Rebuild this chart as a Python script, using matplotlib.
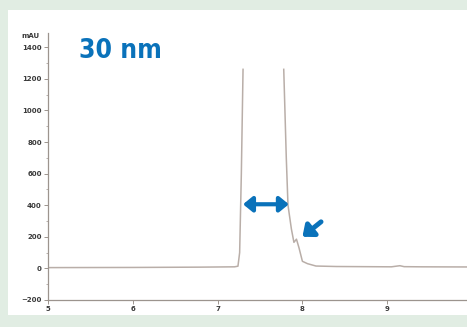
import numpy as np
import matplotlib
matplotlib.use("Agg")
import matplotlib.pyplot as plt
from matplotlib.patches import Rectangle

# chromatogram trace (time in min, signal in mAU)
# the peak runs off scale, so the top is left open (nan)
time_min = [5.0, 6.0, 6.8, 7.2, 7.24, 7.26, 7.28, 7.30,
            np.nan,
            7.78, 7.81, 7.83, 7.87, 7.90, 7.93, 7.96, 8.00, 8.06, 8.16, 8.40,
            9.05, 9.12, 9.15, 9.20, 9.40, 10.0]
signal_mau = [5, 6, 8, 10, 14, 100, 600, 1260,
              np.nan,
              1260, 700, 400, 250, 165, 185, 130, 45, 30, 15, 12,
              10, 15, 17, 11, 10, 9]

y_ticks = [-200, 0, 200, 400, 600, 800, 1000, 1200, 1400]
x_ticks = [5, 6, 7, 8, 9]
title = "30 nm"

blue = "#0a72ba"
axis_col = "#9c948e"
trace_col = "#b9aea8"

fig = plt.figure(figsize=(4.67, 3.27), dpi=100)
fig.patch.set_facecolor("#e1ede3")
fig.patches.append(Rectangle((8 / 467, 1 - 315 / 327), 1, (315 - 10) / 327,
                             transform=fig.transFigure, facecolor="white",
                             edgecolor="none", zorder=-5))

ax = fig.add_axes([48 / 467, 1 - 300 / 327, 424 / 467, 267 / 327])
ax.set_zorder(2)
ax.set_facecolor("none")
ax.plot(time_min, signal_mau, color=trace_col, lw=1.1)

ax.set_xlim(5, 10)
ax.set_ylim(-200, 1490)
ax.set_xticks(x_ticks)
ax.set_yticks(y_ticks)
ax.set_yticks(np.arange(-200, 1450, 100), minor=True)
for s in ["top", "right"]:
    ax.spines[s].set_visible(False)
for s in ["left", "bottom"]:
    ax.spines[s].set_color(axis_col)
    ax.spines[s].set_linewidth(0.9)
ax.tick_params(colors=axis_col, labelcolor="#3a3a3a", labelsize=5, length=3,
               width=0.7, pad=1.5)
ax.tick_params(which="minor", axis="y", colors=axis_col, length=1.5, width=0.5)
for lab in ax.get_xticklabels() + ax.get_yticklabels():
    lab.set_fontweight("bold")

ax.text(9.97, -200, "min", fontsize=5, fontweight="bold", color="#3a3a3a",
        ha="left", va="top", clip_on=False)

# width arrow across the peak and arrow at the shoulder
ax.annotate("", xy=(7.30, 406), xytext=(7.84, 406),
            arrowprops=dict(arrowstyle="<|-|>,head_length=0.55,head_width=0.45",
                            color=blue, lw=3, shrinkA=0, shrinkB=0))
ax.annotate("", xy=(8.00, 200), xytext=(8.22, 295),
            arrowprops=dict(arrowstyle="-|>,head_length=0.6,head_width=0.5",
                            color=blue, lw=3.5, shrinkA=0, shrinkB=0))

fig.text(79 / 467, 1 - 51 / 327, title, color=blue, fontsize=19,
         fontweight="bold", fontstretch="condensed",
         family=["DejaVu Sans"], ha="left", va="center")
fig.text(30 / 467, 1 - 36 / 327, "mAU", color="#3a3a3a", fontsize=5,
         fontweight="bold", ha="center", va="center")

fig.savefig("out.png", dpi=100, facecolor=fig.get_facecolor())
